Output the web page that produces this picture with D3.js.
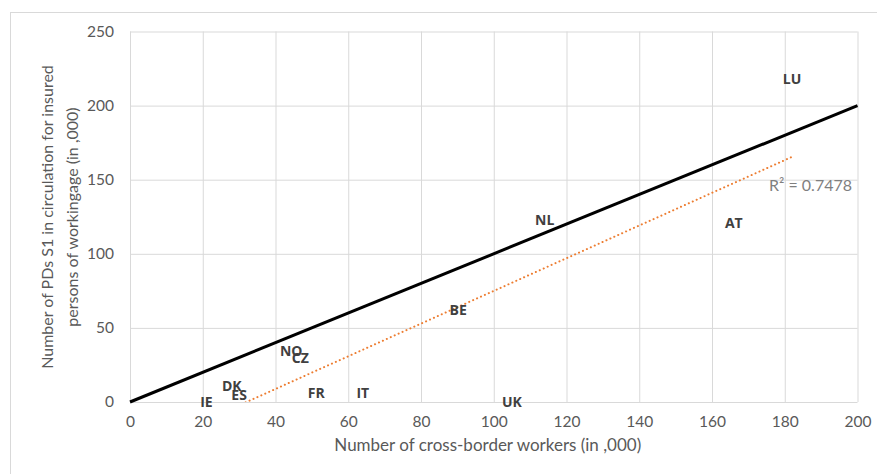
<!DOCTYPE html>
<html>
<head>
<meta charset="utf-8">
<script src="https://cdn.jsdelivr.net/npm/d3@7"></script>
<style>
  body { margin: 0; background: #fff; }
</style>
</head>
<body>
<div id="chart"></div>
<script>
// country labels and values (in ,000)
const countries = ['IE', 'DK', 'ES', 'NO', 'CZ', 'FR', 'IT', 'UK', 'BE', 'NL', 'AT', 'LU'];
const workers = [21, 28, 30, 44.3, 46.8, 51.2, 64, 105, 90.2, 114, 166, 182];
const pds = [0, 10.8, 4.7, 34.4, 29.6, 6, 6, 0, 62, 123, 121, 218];
const xTicks = [0, 20, 40, 60, 80, 100, 120, 140, 160, 180, 200];
const yTicks = [0, 50, 100, 150, 200, 250];
const r2Label = 'R² = 0.7478';

const width = 877, height = 474;
const margin = { top: 31.5, right: 19.5, bottom: 72, left: 130 };

const svg = d3.select('#chart').append('svg').attr('width', width).attr('height', height);

// outer chart frame
svg.append('rect')
  .attr('x', 10.5).attr('y', 12.5)
  .attr('width', 900).attr('height', 500)
  .attr('fill', 'none').attr('stroke', '#d9d9d9').attr('stroke-width', 1);

const x = d3.scaleLinear().domain([0, 200]).range([margin.left, width - margin.right]);
const y = d3.scaleLinear().domain([0, 250]).range([height - margin.bottom, margin.top]);

svg.append('clipPath').attr('id', 'plot')
  .append('rect')
  .attr('x', x(0)).attr('y', y(250))
  .attr('width', x(200) - x(0)).attr('height', y(0) - y(250));

// gridlines
svg.append('g')
  .attr('transform', `translate(0, ${y(0)})`)
  .call(d3.axisBottom(x).tickValues(xTicks).tickSize(-(y(0) - y(250))).tickFormat(''))
  .call(g => g.select('.domain').remove())
  .selectAll('line').attr('stroke', '#d9d9d9');

svg.append('g')
  .attr('transform', `translate(${x(0)}, 0)`)
  .call(d3.axisLeft(y).tickValues(yTicks).tickSize(-(x(200) - x(0))).tickFormat(''))
  .call(g => g.select('.domain').remove())
  .selectAll('line').attr('stroke', '#d9d9d9');

// tick labels
const tickFont = 'Lato, "Noto Sans", sans-serif';
svg.append('g')
  .attr('transform', `translate(0, ${y(0)})`)
  .call(d3.axisBottom(x).tickValues(xTicks).tickSize(0).tickPadding(14))
  .call(g => g.select('.domain').remove())
  .selectAll('text')
  .attr('font-family', tickFont).attr('font-size', 15.5).attr('fill', '#595959');

svg.append('g')
  .attr('transform', `translate(${x(0)}, 0)`)
  .call(d3.axisLeft(y).tickValues(yTicks).tickSize(0).tickPadding(16))
  .call(g => g.select('.domain').remove())
  .selectAll('text')
  .attr('font-family', tickFont).attr('font-size', 15.5).attr('fill', '#595959');

// axis titles
svg.append('text')
  .attr('x', (x(0) + x(200)) / 2 - 6).attr('y', 451)
  .attr('text-anchor', 'middle')
  .attr('font-family', tickFont).attr('font-size', 17).attr('fill', '#595959')
  .text('Number of cross-border workers (in ,000)');

const yTitle = svg.append('text')
  .attr('transform', `translate(0, 217) rotate(-90)`)
  .attr('text-anchor', 'middle')
  .attr('font-family', tickFont).attr('font-size', 16).attr('fill', '#595959');
yTitle.append('tspan').attr('x', 0).attr('y', 53).text('Number of PDs S1 in circulation for insured');
yTitle.append('tspan').attr('x', 0).attr('y', 78).text('persons of workingage (in ,000)');

// linear trendline (least squares over the data)
const mx = d3.mean(workers), my = d3.mean(pds);
const sxy = d3.sum(workers, (w, i) => (w - mx) * (pds[i] - my));
const sxx = d3.sum(workers, w => (w - mx) * (w - mx));
const slope = sxy / sxx, intercept = my - slope * mx;
const xmin = d3.min(workers), xmax = d3.max(workers);

svg.append('line')
  .attr('clip-path', 'url(#plot)')
  .attr('x1', x(xmin)).attr('y1', y(slope * xmin + intercept))
  .attr('x2', x(xmax)).attr('y2', y(slope * xmax + intercept))
  .attr('stroke', '#ed7d31').attr('stroke-width', 2)
  .attr('stroke-dasharray', '0.1,4.2').attr('stroke-linecap', 'round');

// 45 degree reference line
const line = d3.line().x(d => x(d)).y(d => y(d));
svg.append('path')
  .attr('d', line([0, 200]))
  .attr('stroke', '#000').attr('stroke-width', 3).attr('fill', 'none');

svg.append('text')
  .attr('x', 852).attr('y', 191)
  .attr('text-anchor', 'end')
  .attr('font-family', tickFont).attr('font-size', 16).attr('fill', '#7f7f7f')
  .text(r2Label);

// data labels, centred on each point
svg.append('g').selectAll('text')
  .data(countries)
  .join('text')
  .attr('x', (d, i) => x(workers[i]))
  .attr('y', (d, i) => y(pds[i]))
  .attr('dy', '0.35em')
  .attr('text-anchor', 'middle')
  .attr('font-family', '"Open Sans", "Noto Sans", sans-serif')
  .attr('font-weight', 'bold').attr('font-size', 14).attr('fill', '#404040')
  .text(d => d);
</script>
</body>
</html>
